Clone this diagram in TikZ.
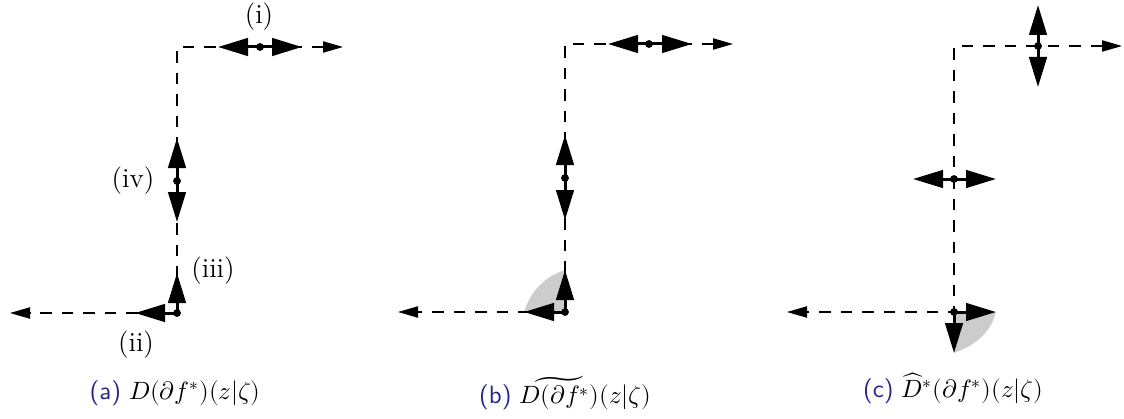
\documentclass[tikz,border=0pt]{standalone}
\usepackage{unicode-math}
\usetikzlibrary{arrows.meta}
\definecolor{capblue}{RGB}{40,40,140}
\begin{document}
\begin{tikzpicture}[x=0.4pt, y=-0.4pt,
    axis/.style={dash pattern=on 4.6pt off 4pt, line width=0.5pt, {Triangle[length=8pt,width=4.5pt]}-{Triangle[length=8pt,width=4.5pt]}},
    vec/.style={-{Triangle[length=12pt,width=7pt]}, line width=1.2pt},
    dot/.style={circle, fill, inner sep=0pt, minimum size=3pt},
    cone/.style={fill=black!20},
    lbl/.style={font=\fontsize{11}{13}\selectfont},
    subcap/.style={font=\normalsize}
  ]
    \useasboundingbox (0,0) rectangle (1124,419);

    % (a)
    \coordinate (aC) at (177,47);
    \coordinate (aR) at (343,47);
    \coordinate (aL) at (10,313);
    \node[dot] (a1) at (260,47) {};
    \node[dot] (a4) at (177,181) {};
    \node[dot] (a2) at (177,313) {};
    \coordinate (a1l) at (218,47);
    \coordinate (a1r) at (302,47);
    \coordinate (a4u) at (177,138);
    \coordinate (a4d) at (177,222);
    \coordinate (a2u) at (177,273);
    \coordinate (a2l) at (135,313);
    \draw[axis] (aR) -- (aC) -- (a2.center) -- (aL);
    \draw[vec] (a1.center) -- (a1l);
    \draw[vec] (a1.center) -- (a1r);
    \draw[vec] (a4.center) -- (a4u);
    \draw[vec] (a4.center) -- (a4d);
    \draw[vec] (a2.center) -- (a2u);
    \draw[vec] (a2.center) -- (a2l);
    \node[dot] at (a1) {};
    \node[dot] at (a4) {};
    \node[dot] at (a2) {};
    \node[lbl] (li) at (259,17) {(i)};
    \node[lbl] (liv) at (133,181) {(iv)};
    \node[lbl] (liii) at (213,271) {(iii)};
    \node[lbl] (lii) at (136,345) {(ii)};
    \node[subcap] (capa) at (175,393) {{\sffamily\color{capblue}(a)} $D(\partial f^*)(z|\zeta)$};

    % (b)
    \coordinate (bC) at (565,44);
    \coordinate (bR) at (733,44);
    \coordinate (bL) at (398,312);
    \node[dot] (b1) at (649,44) {};
    \node[dot] (b4) at (565,178) {};
    \node[dot] (b2) at (565,312) {};
    \coordinate (b1l) at (608,44);
    \coordinate (b1r) at (692,44);
    \coordinate (b4u) at (565,135);
    \coordinate (b4d) at (565,220);
    \coordinate (b2u) at (565,270);
    \coordinate (b2l) at (524,312);
    \fill[cone] (b2.center) -- (b2u) .. controls (545,276) and (530,292) .. (b2l) -- cycle;
    \draw[axis] (bR) -- (bC) -- (b2.center) -- (bL);
    \draw[vec] (b1.center) -- (b1l);
    \draw[vec] (b1.center) -- (b1r);
    \draw[vec] (b4.center) -- (b4u);
    \draw[vec] (b4.center) -- (b4d);
    \draw[vec] (b2.center) -- (b2u);
    \draw[vec] (b2.center) -- (b2l);
    \node[dot] at (b1) {};
    \node[dot] at (b4) {};
    \node[dot] at (b2) {};
    \node[subcap] (capb) at (565,393) {{\sffamily\color{capblue}(b)} $\widetilde{D(\partial f^*)}(z|\zeta)$};

    % (c)
    \coordinate (cC) at (954,46);
    \coordinate (cR) at (1122,46);
    \coordinate (cL) at (787,312);
    \node[dot] (c1) at (1038,46) {};
    \node[dot] (c4) at (954,179) {};
    \node[dot] (c2) at (954,312) {};
    \coordinate (c1u) at (1038,5);
    \coordinate (c1d) at (1038,87);
    \coordinate (c4l) at (913,179);
    \coordinate (c4r) at (996,179);
    \coordinate (c2r) at (996,312);
    \coordinate (c2d) at (954,353);
    \fill[cone] (c2.center) -- (c2r) .. controls (990,334) and (975,345) .. (c2d) -- cycle;
    \draw[axis] (cR) -- (cC) -- (c2.center) -- (cL);
    \draw[vec] (c1.center) -- (c1u);
    \draw[vec] (c1.center) -- (c1d);
    \draw[vec] (c4.center) -- (c4l);
    \draw[vec] (c4.center) -- (c4r);
    \draw[vec] (c2.center) -- (c2r);
    \draw[vec] (c2.center) -- (c2d);
    \node[dot] at (c1) {};
    \node[dot] at (c4) {};
    \node[dot] at (c2) {};
    \node[subcap] (capc) at (953,388) {{\sffamily\color{capblue}(c)} $\widehat{D}^*(\partial f^*)(z|\zeta)$};
  \end{tikzpicture}
\end{document}
